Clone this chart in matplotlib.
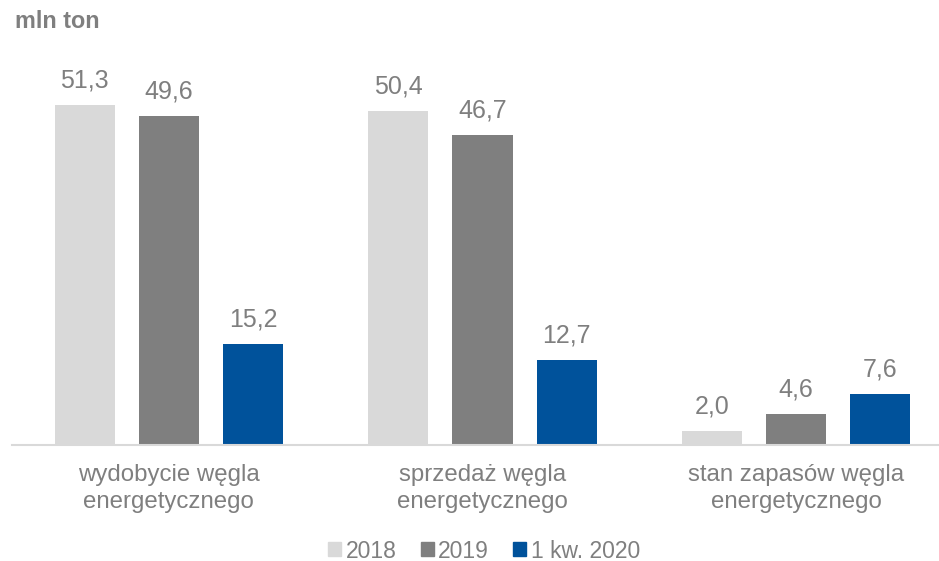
import matplotlib
matplotlib.use("Agg")
import matplotlib.pyplot as plt
import numpy as np

categories = ["wydobycie węgla\nenergetycznego", "sprzedaż węgla\nenergetycznego", "stan zapasów węgla\nenergetycznego"]
series_names = ["2018", "2019", "1 kw. 2020"]
values_2018 = [51.3, 50.4, 2.0]
values_2019 = [49.6, 46.7, 4.6]
values_2020 = [15.2, 12.7, 7.6]
colors = ["#d9d9d9", "#7f7f7f", "#00529b"]
text_color = "#7f7f7f"

plt.rcParams['font.family'] = ['Liberation Sans', 'DejaVu Sans']

W, H = 939, 561
fig = plt.figure(figsize=(W / 100, H / 100), dpi=100)
ax_left = 12 / W
ax_bottom = 1 - 444.5 / H
ax_top = 1 - 60 / H
ax_width = 941 / W
ax = fig.add_axes([ax_left, ax_bottom, ax_width, ax_top - ax_bottom])

x = np.arange(len(categories))
step = 84 / 313.5
width = 60 / 313.5
all_vals = [values_2018, values_2019, values_2020]
for i, (vals, col, name) in enumerate(zip(all_vals, colors, series_names)):
    pos = x + (i - 1) * step
    ax.bar(pos, vals, width=width, color=col, label=name, zorder=2)
    for p, v in zip(pos, vals):
        ax.annotate(f"{v:.1f}".replace(".", ","), (p, v), xytext=(0, 9),
                    textcoords="offset points", ha="center", va="bottom",
                    fontsize=18, color=text_color)

ax.set_xlim(-0.5, 2.5)
ax.set_ylim(0, 58.1)
for s in ["top", "right", "left"]:
    ax.spines[s].set_visible(False)
ax.spines["bottom"].set_color("#d9d9d9")
ax.spines["bottom"].set_linewidth(1.5)
ax.set_yticks([])
ax.set_xticks(x)
ax.set_xticklabels(categories, fontsize=17.3, color=text_color, linespacing=1.27)
ax.tick_params(axis="x", length=0, pad=14)

fig.text(15 / W, 1 - 21 / H, "mln ton", fontsize=16.8, fontweight="bold",
         color=text_color, ha="left", va="center")

handles = [plt.Rectangle((0, 0), 1, 1, color=c) for c in colors]
fig.legend(handles, series_names, loc="center", bbox_to_anchor=(484 / W, 1 - 551 / H),
           ncol=3, frameon=False, fontsize=16.5, labelcolor=text_color,
           handlelength=0.57, handleheight=0.57, handletextpad=0.2, columnspacing=1.05)

fig.savefig("out.png", dpi=100)
